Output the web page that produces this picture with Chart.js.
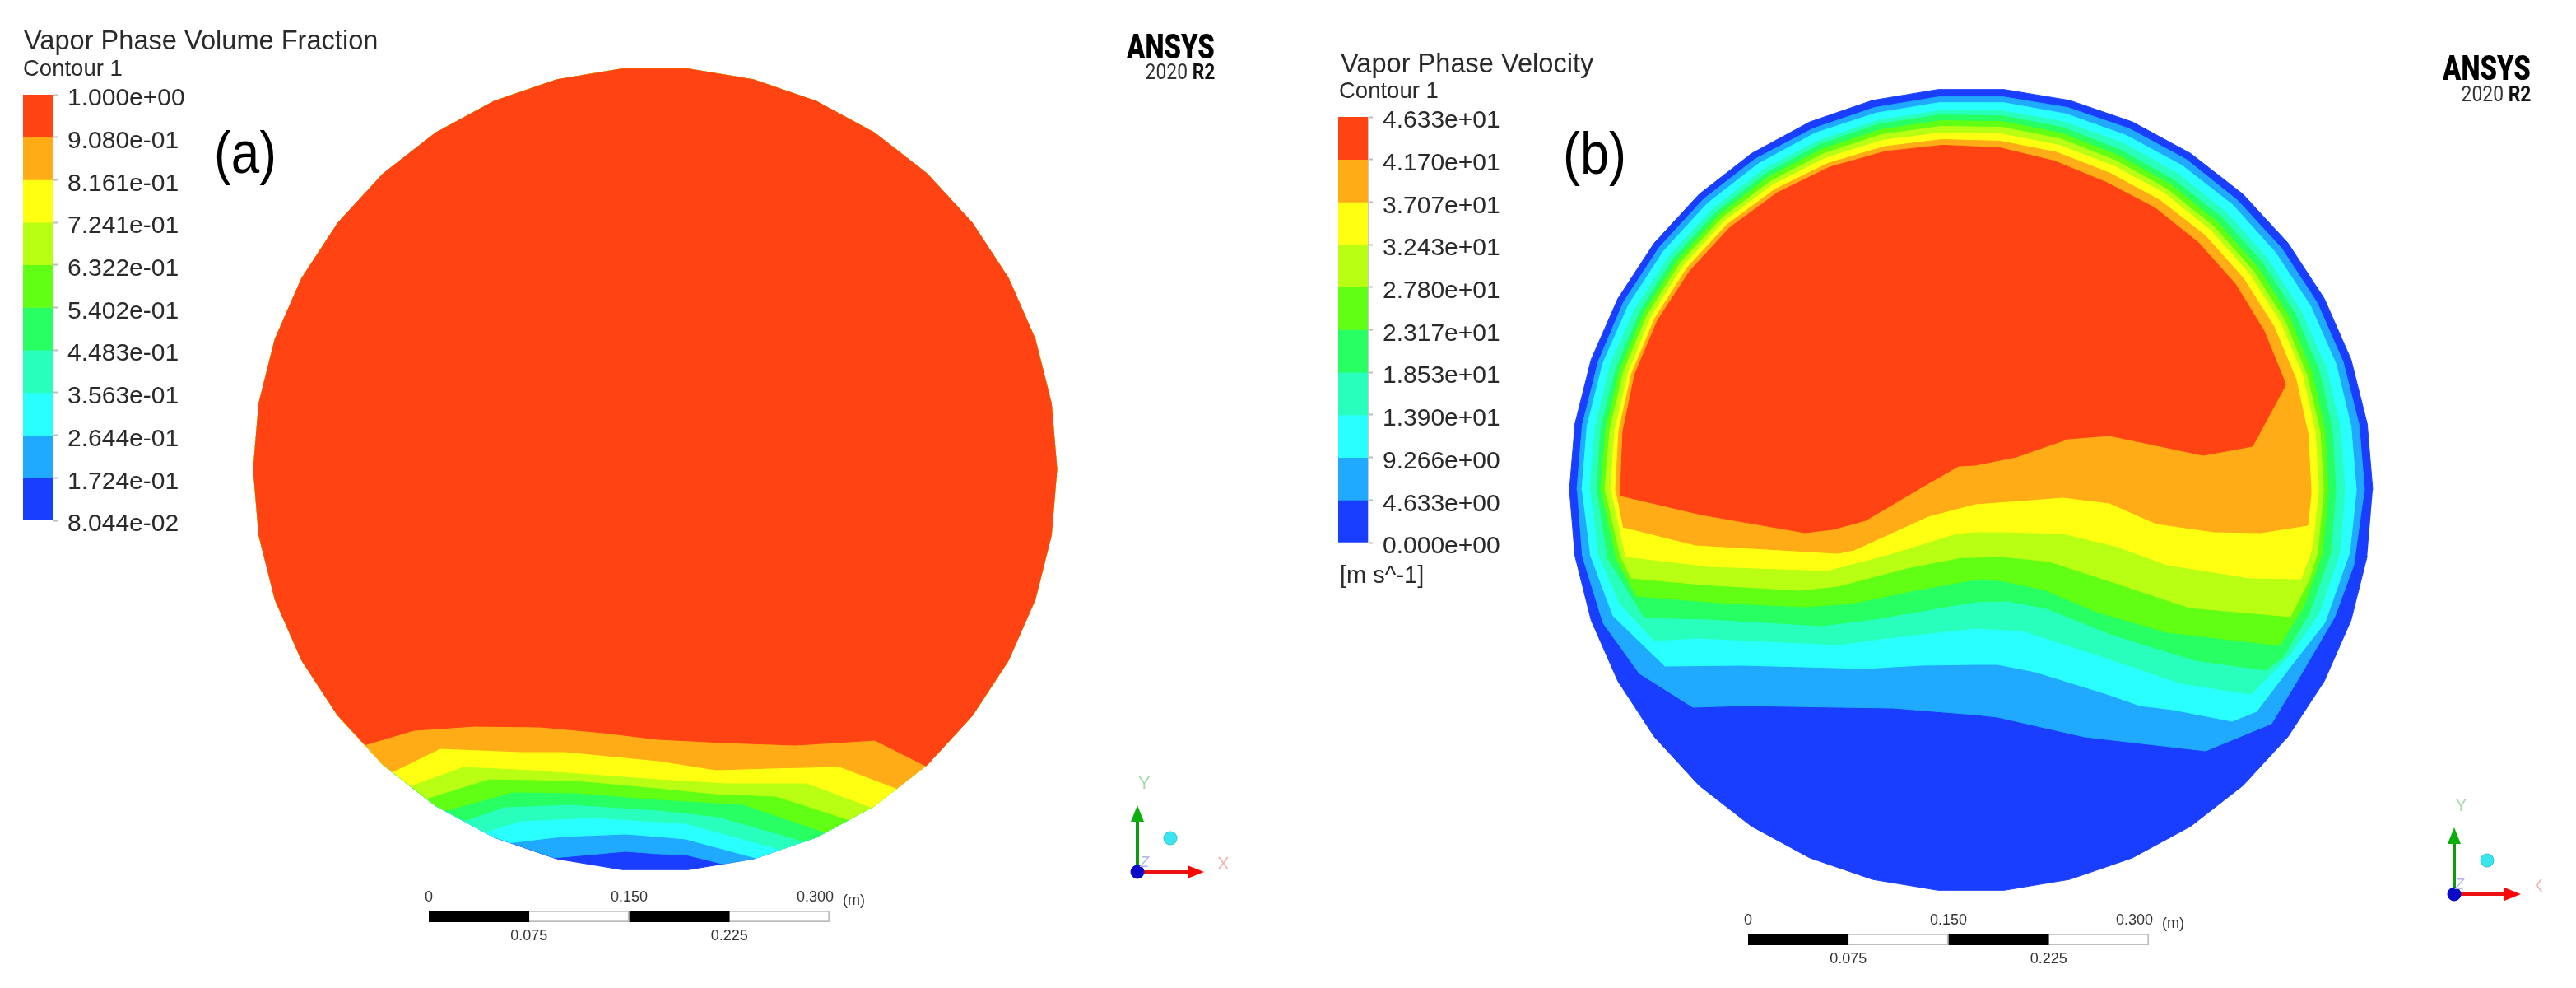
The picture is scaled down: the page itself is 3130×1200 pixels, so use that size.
<!DOCTYPE html>
<html><head><meta charset="utf-8">
<script src="https://cdn.jsdelivr.net/npm/chart.js@4/dist/chart.umd.min.js"></script>
<style>
html,body{margin:0;padding:0;background:#fff;overflow:hidden}
#page{position:relative;width:3130px;height:1200px;overflow:hidden;background:#fff}
#page canvas{position:absolute;display:block}
.t{position:absolute;white-space:pre;font-family:"Liberation Sans",Arial,sans-serif;color:#2a2a2a;line-height:1;transform:translateY(-50%)}
</style></head><body><div id="page"></div>
<script>
// ---- colour-bar data ----
const levelsA = [1.000,0.9080,0.8161,0.7241,0.6322,0.5402,0.4483,0.3563,0.2644,0.1724,0.08044];
const tickLabelsA = ['1.000e+00','9.080e-01','8.161e-01','7.241e-01','6.322e-01','5.402e-01','4.483e-01','3.563e-01','2.644e-01','1.724e-01','8.044e-02'];
const levelsB = [46.33,41.70,37.07,32.43,27.80,23.17,18.53,13.90,9.266,4.633,0];
const tickLabelsB = ['4.633e+01','4.170e+01','3.707e+01','3.243e+01','2.780e+01','2.317e+01','1.853e+01','1.390e+01','9.266e+00','4.633e+00','0.000e+00'];
const bandColours = ['#FF4313','#FFAC17','#FFFF12','#B8FF14','#60FF14','#28FF62','#28FFBC','#2AFFFF','#20AAFF','#1A3EFF'];

// ---- pipe section outline (units: pipe radius = 488) ----
const pipeRadius = 488;
const pipeOutline = [[488,0],[481.3,80.3],[461.6,158.5],[429.2,232.3],[385.1,299.7],[330.5,359],[266.9,408.5],[196,446.9],[119.8,473.1],[40.3,486.3],
 [-40.3,486.3],[-119.8,473.1],[-196,446.9],[-266.9,408.5],[-330.5,359],[-385.1,299.7],[-429.2,232.3],[-461.6,158.5],[-481.3,80.3],[-488,0],
 [-481.3,-80.3],[-461.6,-158.5],[-429.2,-232.3],[-385.1,-299.7],[-330.5,-359],[-266.9,-408.5],[-196,-446.9],[-119.8,-473.1],[-40.3,-486.3],
 [40.3,-486.3],[119.8,-473.1],[196,-446.9],[266.9,-408.5],[330.5,-359],[385.1,-299.7],[429.2,-232.3],[461.6,-158.5],[481.3,-80.3]];

// ---- panel (a): contour lines, level 0.908 downward ----
const contA1 = [[-351,-333],[-293,-317],[-219,-312],[-139,-313],[-63,-320],[4,-328],[84,-332],[171,-335],[267,-329],[326,-357]];
const contA2 = [[-318,-366],[-261,-339],[-163,-343],[-109,-343],[4,-354],[74,-365],[137,-363],[224,-361],[291,-384]];
const contA3 = [[-296,-382],[-233,-361],[-149,-365],[4,-376],[87,-381],[184,-381],[261,-407]];
const contA4 = [[-276,-397],[-201,-376],[-96,-378],[4,-387],[71,-394],[147,-397],[234,-423]];
const contA5 = [[-254,-413],[-173,-392],[-96,-393],[4,-401],[107,-407],[204,-435]];
const contA6 = [[-231,-424],[-183,-410],[-103,-407],[4,-414],[77,-422],[179,-446]];
const contA7 = [[-206,-437],[-163,-427],[-76,-423],[4,-428],[37,-430],[151,-457]];
const contA8 = [[-176,-452],[-113,-446],[-36,-443],[4,-446],[37,-449],[122,-469]];
const contA9 = [[-123,-471],[-36,-464],[4,-467],[37,-468],[82,-477]];

// ---- panel (b): lower contour runs, left to right ----
const contB1 = [[-426,-7],[-328,-30],[-202,-52],[-168,-48],[-128,-37],[-62,2],[-15,29],[5,30],[55,40],[118,62],[168,66],[282,42],[342,53],[382,127]];
const contB2 = [[-423,-45],[-335,-67],[-162,-77],[-142,-73],[-52,-32],[5,-17],[112,-9],[168,-16],[225,-41],[295,-51],[352,-52],[409,-43],[413,-5]];
const contB3 = [[-420,-81],[-318,-93],[-175,-98],[-95,-77],[-18,-53],[5,-51],[38,-51],[112,-53],[178,-69],[238,-91],[338,-107],[401,-108],[415,-69],[422,-1]];
const contB4 = [[-427,-78],[-413,-107],[-328,-115],[-208,-122],[-162,-117],[-78,-95],[-12,-82],[5,-82],[38,-81],[95,-87],[172,-112],[265,-143],[388,-154],[411,-108],[421,-76],[428,-1]];
const contB5 = [[-432,-82],[-407,-129],[-295,-138],[-202,-142],[-145,-138],[-68,-122],[5,-109],[35,-110],[88,-121],[152,-148],[238,-173],[375,-189],[404,-142],[427,-76],[434,-1]];
const contB6 = [[-442,-82],[-397,-155],[-318,-157],[-182,-165],[-118,-157],[5,-136],[45,-135],[92,-144],[172,-176],[272,-207],[358,-219],[379,-203],[411,-150],[437,-76],[443,-1]];
const contB7 = [[-453,-78],[-427,-138],[-385,-183],[-332,-180],[-162,-188],[-102,-180],[5,-168],[62,-171],[155,-201],[255,-235],[340,-248],[388,-200],[423,-150],[448,-76],[454,-1]];
const contB8 = [[-463,-78],[-435,-153],[-372,-214],[-278,-213],[-128,-217],[-62,-213],[5,-212],[32,-212],[78,-221],[165,-248],[205,-262],[245,-267],[317,-281],[347,-269],[391,-211],[430,-161],[460,-76],[468,-1]];
const contB9 = [[-473,-78],[-447,-162],[-403,-223],[-338,-264],[-275,-262],[-162,-264],[-95,-265],[5,-273],[32,-276],[138,-300],[285,-317],[365,-284],[404,-219],[442,-154],[465,-91],[477,-5]];

// ---- panel (b): wall distance of each contour at the outline vertices 0..19 ----
const wallB1 = [null,null,85,83,81,80,79,80,76,71,68,64,60,57,55,55,55,56,59,62];
const wallB2 = [75,73,71,70,69,68,68,68,65,63,61,58,55,52,50,50,51,52,54,56];
const wallB3 = [66,64,62,61,60,59,58,58,56,54,53,50,48,46,45,45,46,48,49,50];
const wallB4 = [60,58,57,55,54,53,52,51,48,46,45,43,42,41,40,40,41,42,43,43];
const wallB5 = [54,52,50,48,47,46,45,44,41,39,38,37,36,35,35,35,36,37,38,38];
const wallB6 = [45,43,41,40,39,38,38,37,34,32,31,30,30,30,30,30,31,32,32,33];
const wallB7 = [34,33,32,32,31,30,29,28,27,26,26,25,25,24,24,24,24,24,25,25];
const wallB8 = [20,20,19,19,19,18,18,18,17,16,16,16,15,15,15,15,15,15,15,15];
const wallB9 = [10,10,10,10,10,10,9,9,9,9,9,9,9,8,8,8,8,9,9,9];

// ---- scale bar (metres) ----
const barEdges = [0,0.075,0.150,0.225,0.300];
const barTopTicks = [0,0.150,0.300];
const barBottomTicks = [0.075,0.225];

const page = document.getElementById('page');
Chart.defaults.font.family = '"Liberation Sans",Arial,sans-serif';

function makeCanvas(l,t,w,h){
  const c=document.createElement('canvas');
  c.width=w;c.height=h;c.style.left=l+'px';c.style.top=t+'px';c.style.width=w+'px';c.style.height=h+'px';
  page.appendChild(c);return c;
}
const baseOpts={responsive:false,animation:false,devicePixelRatio:1,events:[],plugins:{legend:{display:false},tooltip:{enabled:false},title:{display:false}}};

// put a contour's end exactly on the outline, along its own radial line
function snapToOutline(p){
  let best=null;
  pipeOutline.forEach((a,i)=>{
    const b=pipeOutline[(i+1)%pipeOutline.length];
    const ex=b[0]-a[0],ey=b[1]-a[1],den=p[0]*ey-p[1]*ex;
    if(Math.abs(den)<1e-9)return;
    const t=(a[0]*ey-a[1]*ex)/den,u=(a[0]*p[1]-a[1]*p[0])/den;
    if(t>0&&u>=0&&u<=1)best=[p[0]*t,p[1]*t];
  });
  return best||p;
}
// region of panel (a) at or above a contour: the contour, closed over the top of the outline
const ang=p=>(Math.atan2(p[1],p[0])*180/Math.PI+360)%360;
function closeOverTop(cont){
  const run=cont.slice();
  run[0]=snapToOutline(run[0]);
  run[run.length-1]=snapToOutline(run[run.length-1]);
  const a0=ang(run[run.length-1]),span=(ang(run[0])-a0+360)%360;
  const arc=pipeOutline.map(p=>[(ang(p)-a0+360)%360,p]).filter(d=>d[0]>0&&d[0]<span).sort((u,v)=>u[0]-v[0]).map(d=>d[1]);
  return run.concat(arc);
}
// region of panel (b) inside a contour: the lower run, closed by the wall-following arc
function closeAlongWall(cont,wall){
  const arc=[];
  wall.forEach((d,k)=>{ if(d!==null){const p=pipeOutline[k],f=1-d/pipeRadius;arc.push([p[0]*f,p[1]*f]);} });
  return cont.concat(arc);
}
function polyDS(pts,colour,bw){
  return {data:pts.map(p=>({x:p[0],y:p[1]})),showLine:true,fill:'shape',backgroundColor:colour,borderColor:colour,borderWidth:bw===undefined?1:bw,pointRadius:0,tension:0};
}
function lineDS(pts,colour,w){
  return {data:pts.map(p=>({x:p[0],y:p[1]})),showLine:true,fill:false,borderColor:colour,borderWidth:w,pointRadius:0,tension:0};
}
function ballDS(p,colour,r,edge){
  return {data:[{x:p[0],y:p[1]}],showLine:false,pointRadius:r,pointStyle:'circle',backgroundColor:colour,borderColor:edge,borderWidth:1};
}
function triadSets(o){ // o = origin of triad in panel units
  const [x,y]=o;
  return [
    lineDS([[x,y],[x,y+62]],'#0c9a0c',4),
    polyDS([[x-8,y+61],[x+8,y+61],[x,y+81]],'#0cae0c',0),
    lineDS([[x,y],[x+62,y]],'#ee1111',4),
    polyDS([[x+61,y+8],[x+61,y-8],[x+81,y]],'#ff0505',0),
    ballDS([x,y],'#0808c8',8,'#0808c8'),
    ballDS([x+40,y+41],'#39e6ee',8,'#2fc3cc')
  ];
}
function panelChart(left,width,cx,cy,regions,triadOrigin){
  const inset=9; // Chart.js keeps this margin for the round markers, so the canvas is grown by it
  const sets=[polyDS(pipeOutline,bandColours[9])];
  for(let i=regions.length-1;i>=0;i--) sets.push(polyDS(regions[i],bandColours[i]));
  triadSets(triadOrigin).forEach(s=>sets.push(s));
  sets.forEach((s,i)=>{s.order=-i;});
  new Chart(makeCanvas(left-inset,-inset,width+2*inset,1200+2*inset),{type:'scatter',data:{datasets:sets},options:Object.assign({},baseOpts,{
    layout:{padding:inset},
    scales:{x:{type:'linear',display:false,min:left-cx,max:left+width-cx},y:{type:'linear',display:false,min:cy-1200,max:cy}}
  })});
}
panelChart(0,1565,796,570,[contA1,contA2,contA3,contA4,contA5,contA6,contA7,contA8,contA9].map(closeOverTop),[586,-489]);
const contsB=[contB1,contB2,contB3,contB4,contB5,contB6,contB7,contB8,contB9];
const wallsB=[wallB1,wallB2,wallB3,wallB4,wallB5,wallB6,wallB7,wallB8,wallB9];
panelChart(1565,1565,2395,595,contsB.map((c,i)=>closeAlongWall(c,wallsB[i])),[587,-491]);

// colour bar: floating bars on a linear axis whose ticks are the contour levels
function colourBar(left,top,levels,labels){
  const W=220,pad=40,H=517+2*pad;
  const sets=bandColours.map((col,i)=>({data:[[levels[i+1],levels[i]]],backgroundColor:col,borderWidth:0,barPercentage:1,categoryPercentage:1,grouped:false}));
  new Chart(makeCanvas(left,top-pad,W,H),{type:'bar',data:{labels:[''],datasets:sets},options:Object.assign({},baseOpts,{
    layout:{padding:{top:pad,bottom:pad,left:0,right:0}},
    scales:{
      x:{display:false},
      y:{type:'linear',position:'right',min:levels[levels.length-1],max:levels[0],
        afterFit:s=>{s.width=W-36;},
        afterBuildTicks:s=>{s.ticks=levels.map(v=>({value:v}));},
        grid:{drawOnChartArea:false,drawTicks:true,tickLength:6,tickColor:'#bdbdbd',tickWidth:2},
        border:{display:true,color:'#c8c8c8',width:1},
        ticks:{autoSkip:false,padding:12,labelOffset:5,color:'#2a2a2a',font:{size:30},
          callback:(v,i)=>labels[i]}
      }
    }
  })});
}
colourBar(28,115,levelsA,tickLabelsA);
colourBar(1626,142,levelsB,tickLabelsB);

// scale bar: floating bars on two metre axes
function scaleBar(left,top){
  const pad=70,W=487+2*pad,H=70;
  const sets=[];
  for(let i=0;i<barEdges.length-1;i++){
    sets.push({data:[[barEdges[i],barEdges[i+1]]],backgroundColor:i%2?'#ffffff':'#000000',borderColor:'#bdbdbd',borderWidth:i%2?2:0,barPercentage:1,categoryPercentage:1,grouped:false,xAxisID:'x'});
  }
  const axis=(pos,ticks)=>({type:'linear',position:pos,axis:'x',min:0,max:0.3,display:true,
    afterFit:s=>{s.height=28;},
    afterBuildTicks:s=>{s.ticks=ticks.map(v=>({value:v}));},
    grid:{display:false,drawTicks:false},border:{display:false},
    // the last label sits inside the bar's end, hence its trailing spaces
    ticks:{autoSkip:false,maxRotation:0,padding:pos==='top'?5:6,color:'#333',font:{size:18},
      callback:v=>v===0?'0':(v===0.3?v.toFixed(3)+'       ':v.toFixed(3))}});
  new Chart(makeCanvas(left-pad,top-28,W,H),{type:'bar',data:{labels:[''],datasets:sets},options:Object.assign({},baseOpts,{
    indexAxis:'y',layout:{padding:{left:pad,right:pad,top:0,bottom:0}},
    scales:{x:axis('top',barTopTicks),xb:axis('bottom',barBottomTicks),y:{display:false}}
  })});
}
scaleBar(521,1106);
scaleBar(2124,1134);

// captions
function text(s,x,y,size,extra){
  const e=document.createElement('span');e.className='t';e.textContent=s;
  e.style.left=x+'px';e.style.top=y+'px';e.style.fontSize=size+'px';
  if(extra)Object.assign(e.style,extra);
  page.appendChild(e);return e;
}
text('Vapor Phase Volume Fraction',29,49,32.6);
text('Contour 1',28,83,27.5);
text('Vapor Phase Velocity',1629,77,32.6);
text('Contour 1',1627,110,27.5);
text('[m s^-1]',1628,698,29);
text('(a)',260,186,62,{color:'#000',transform:'translateY(-50%) scaleY(1.15)'});
text('(b)',1899,186,63,{color:'#000',transform:'translateY(-50%) scaleY(1.15)'});
text('(m)',1024,1093,18,{color:'#333'});
text('(m)',2627,1121,18,{color:'#333'});
function logo(xr,y1,y2){
  text('ANSYS',0,y1,42,{left:'auto',right:(3130-xr)+'px',fontFamily:'Roboto',fontWeight:'900',color:'#000',transformOrigin:'right center',transform:'translateY(-50%) scaleX(0.78)'});
  const e=text('',0,y2,26,{left:'auto',right:(3130-xr)+'px',fontFamily:'Roboto',color:'#333',transformOrigin:'right center',transform:'translateY(-50%) scaleX(0.88)'});
  e.innerHTML='2020 <b style="color:#111">R2</b>';
}
logo(1476,57,87);
logo(3075,83,114);
text('Y',1383,951,22,{color:'#a9dca9'});
text('X',1479,1049,22,{color:'#f3b4b4'});
text('Z',1385,1047,18,{color:'#b4b4f0',fontStyle:'italic'});
text('Y',2983,978,22,{color:'#a9dca9'});
text('X',3075,1076,22,{color:'#f3b4b4',clipPath:'inset(0 0 0 50%)'});
text('Z',2983,1074,18,{color:'#b4b4f0',fontStyle:'italic'});
</script></body></html>
